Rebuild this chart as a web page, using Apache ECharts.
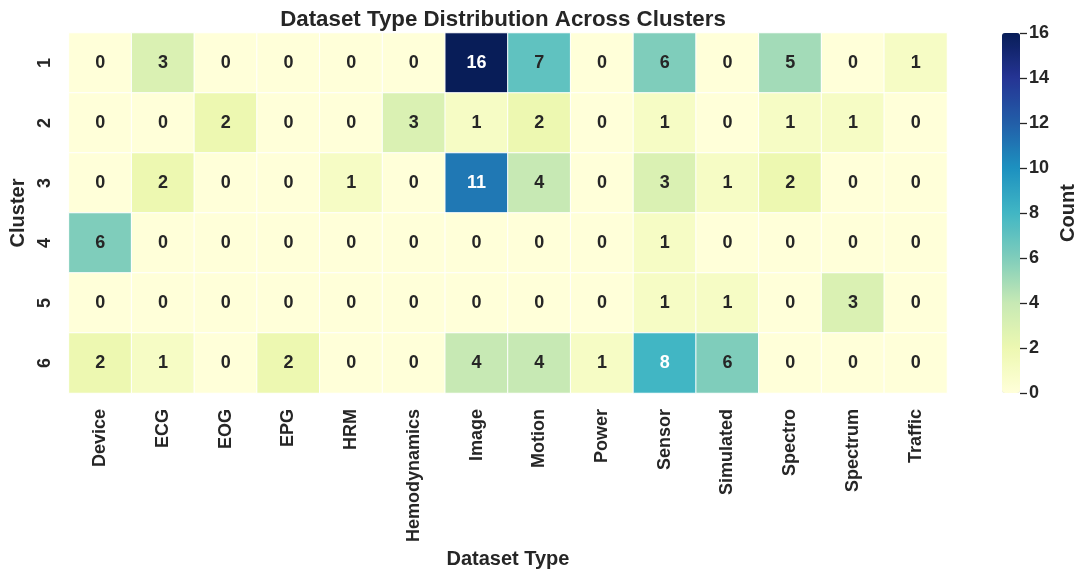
<!DOCTYPE html>
<html>
<head>
<meta charset="utf-8">
<script src="https://cdn.jsdelivr.net/npm/echarts@6/dist/echarts.min.js"></script>
<style>html,body{margin:0;padding:0;background:#fff;}#c{width:1087px;height:576px;}</style>
</head>
<body>
<div id="c"></div>
<script>
const datasetTypes = ['Device','ECG','EOG','EPG','HRM','Hemodynamics','Image','Motion','Power','Sensor','Simulated','Spectro','Spectrum','Traffic'];
const clusters = ['1','2','3','4','5','6'];
const cluster1 = [0,3,0,0,0,0,16,7,0,6,0,5,0,1];
const cluster2 = [0,0,2,0,0,3,1,2,0,1,0,1,1,0];
const cluster3 = [0,2,0,0,1,0,11,4,0,3,1,2,0,0];
const cluster4 = [6,0,0,0,0,0,0,0,0,1,0,0,0,0];
const cluster5 = [0,0,0,0,0,0,0,0,0,1,1,0,3,0];
const cluster6 = [2,1,0,2,0,0,4,4,1,8,6,0,0,0];
const colorbarMin = 0, colorbarMax = 16, colorbarStep = 2;

const rows = [cluster1,cluster2,cluster3,cluster4,cluster5,cluster6];
const data = [];
rows.forEach((r, yi) => r.forEach((v, xi) => {
  data.push({value:[xi, yi, v], label:{color: v >= 8 ? '#ffffff' : '#262626'}});
}));

const FONT = 'Liberation Sans';
const INK = '#262626';
const chart = echarts.init(document.getElementById('c'), null, {renderer:'canvas'});
chart.setOption({
  backgroundColor:'#ffffff',
  animation:false,
  textStyle:{fontFamily:FONT},
  title:{
    text:'Dataset Type Distribution Across Clusters',
    left:498, top:4, textAlign:'center',
    textStyle:{fontFamily:FONT, fontSize:22.3, fontWeight:'bold', color:INK}
  },
  grid:[
    {left:67, width:880, top:33, height:360},
    {left:1002, width:18, top:33, height:360}
  ],
  xAxis:[
    {type:'category', data:datasetTypes, gridIndex:0,
     axisLine:{show:false}, axisTick:{show:false}, splitLine:{show:false},
     axisLabel:{rotate:90, fontSize:18, fontWeight:'bold', color:INK, margin:16, fontFamily:FONT},
     name:'Dataset Type', nameLocation:'middle', nameGap:148,
     nameTextStyle:{fontSize:20, fontWeight:'bold', color:INK, fontFamily:FONT}},
    {type:'value', gridIndex:1, min:0, max:1,
     axisLine:{show:false}, axisTick:{show:false}, axisLabel:{show:false}, splitLine:{show:false}}
  ],
  yAxis:[
    {type:'category', data:clusters, gridIndex:0, inverse:true,
     axisLine:{show:false}, axisTick:{show:false}, splitLine:{show:false},
     axisLabel:{rotate:90, fontSize:18, fontWeight:'bold', color:INK, margin:15, fontFamily:FONT},
     name:'Cluster', nameLocation:'middle', nameGap:36, nameRotate:90,
     nameTextStyle:{fontSize:20, fontWeight:'bold', color:INK, fontFamily:FONT}},
    {type:'value', gridIndex:1, position:'right', min:colorbarMin, max:colorbarMax, interval:colorbarStep,
     axisLine:{show:true, onZero:false, lineStyle:{color:'#ffffff', width:1, opacity:0}}, splitLine:{show:false},
     axisTick:{show:true, inside:false, length:7, lineStyle:{color:INK, width:1.3, opacity:1}},
     axisLabel:{fontSize:18, fontWeight:'bold', color:INK, margin:9, fontFamily:FONT},
     name:'Count', nameLocation:'middle', nameGap:38, nameRotate:90,
     nameTextStyle:{fontSize:20, fontWeight:'bold', color:INK, fontFamily:FONT}}
  ],
  visualMap:{
    type:'continuous', min:colorbarMin, max:colorbarMax, seriesIndex:0,
    orient:'vertical', left:1002, top:33, itemWidth:18, itemHeight:360,
    padding:0, text:null, showLabel:false, calculable:false, hoverLink:false,
    inRange:{color:['#ffffd9','#edf8b1','#c7e9b4','#7fcdbb','#41b6c4','#1d91c0','#225ea8','#253494','#081d58']}
  },
  series:[{
    type:'heatmap', xAxisIndex:0, yAxisIndex:0, data:data,
    itemStyle:{borderColor:'#ffffff', borderWidth:1},
    label:{show:true, fontSize:18, fontWeight:'bold', fontFamily:FONT,
      formatter:p => String(p.value[2])},
    emphasis:{disabled:true}
  }]
});
</script>
</body>
</html>
